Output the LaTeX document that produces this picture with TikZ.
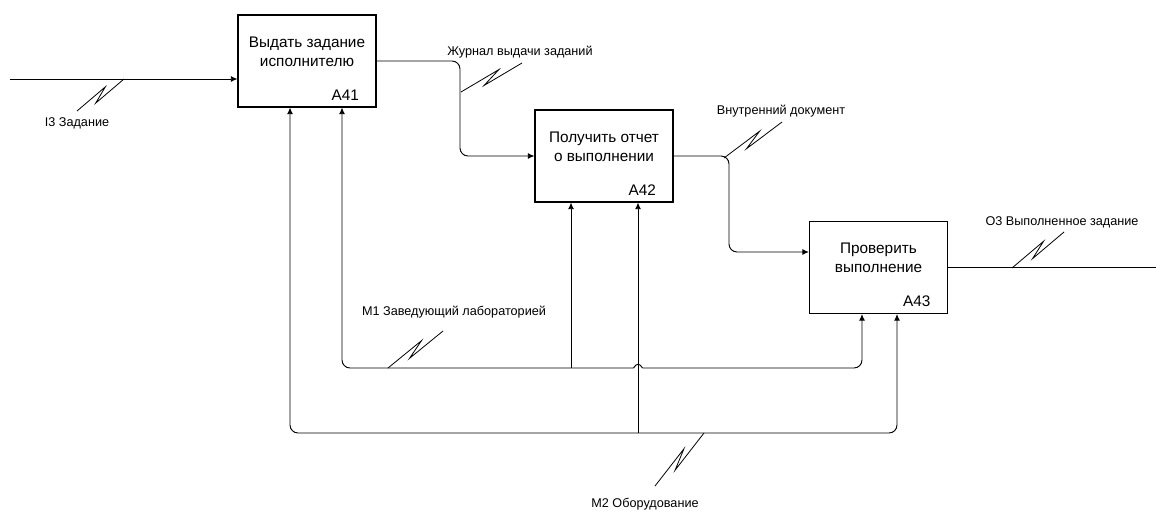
\documentclass[tikz,border=0pt]{standalone}
\usepackage{fontspec}
\setmainfont{Liberation Sans}
\usetikzlibrary{arrows.meta,calc}

\newcommand{\squig}[2]{%
  \draw[squigline] (#1) -- ($(#1)!0.65!(#2)!3pt!90:(#2)$)
    -- ($(#1)!0.35!(#2)!3pt!-90:(#2)$) -- (#2);}

\begin{document}
\begin{tikzpicture}[x=0.75pt, y=-0.75pt,
    actbox/.style={draw, line width=0.8pt, minimum width=103.5pt, minimum height=69pt, inner sep=0pt},
    boxtext/.style={font=\fontsize{11.5}{14.5}\selectfont, align=center},
    boxnum/.style={font=\fontsize{11.5}{13}\selectfont, anchor=south east, inner sep=0pt, xshift=-13pt, yshift=5pt},
    plain/.style={line width=0.7pt},
    flow/.style={plain, -{Latex[length=5pt,width=4.5pt]}},
    twoway/.style={plain, {Latex[length=5pt,width=4.5pt]}-{Latex[length=5pt,width=4.5pt]}},
    squigline/.style={line width=0.6pt},
    arrowlbl/.style={font=\fontsize{9.5}{11}\selectfont}]
    \useasboundingbox (0,0) rectangle (1156,511);

    % Draw Activity Boxes
    \node[actbox, label={[boxtext, yshift=7pt]center:Выдать задание\\исполнителю},
      label={[boxnum]south east:A41}] (a41) at (307,61) {};
    \node[actbox, label={[boxtext, yshift=7pt]center:Получить отчет\\о выполнении},
      label={[boxnum]south east:A42}] (a42) at (604,156) {};
    \node[actbox, label={[boxtext, yshift=7.5pt]center:Проверить\\выполнение},
      label={[boxnum]south east:A43}] (a43) at (878.5,267.5) {};

    % Draw Inputs and Outputs
    \coordinate (i3) at (10,79);
    \draw[flow] (i3) -- (i3 -| a41.west);
    \coordinate (j1) at (460,100);
    \draw[flow, rounded corners=6pt] (a41.east) -| (j1) |- (a42.west);
    \coordinate (j2) at (729,200);
    \draw[flow, rounded corners=6pt] (a42.east) -| (j2) |- ($(a43.west)+(0,-15.5)$);
    \coordinate (o3) at (1156,268);
    \draw[plain] (a43.east) -- (o3 |- a43.east);

    % Draw Mechanisms
    \coordinate (m1) at (571,368);
    \coordinate (m2) at (638,433);
    \coordinate (hopa) at (633.5,368);
    \coordinate (hopb) at (642.5,368);
    \draw[flow, rounded corners=6pt] (hopa) -| ($(a41.south)+(35,0)$);
    \draw[plain] (hopa) .. controls (636.5,363) and (639.5,363) .. (hopb);
    \draw[flow, rounded corners=6pt] (hopb) -| ($(a43.south)+(-16.5,0)$);
    \draw[twoway, rounded corners=6pt]
      ($(a41.south)+(-17,0)$) |- (m2) -| ($(a43.south)+(18.5,0)$);
    \draw[flow] (m1) -- (m1 |- a42.south);
    \draw[flow] (m2) -- (m2 |- a42.south);

    % Draw Squiggles and Labels
    \squig{124,79}{77,111}
    \node[arrowlbl] (l-i3) at (77,123) {I3 Задание};
    \squig{461,92}{522,63}
    \node[arrowlbl] (l-jour) at (520,52) {Журнал выдачи заданий};
    \squig{724,158}{782,122}
    \node[arrowlbl] (l-doc) at (781,111) {Внутренний документ};
    \squig{1012,268}{1064,232}
    \node[arrowlbl] (l-o3) at (1062,222) {О3 Выполненное задание};
    \squig{388,368}{443,331}
    \node[arrowlbl] (l-m1) at (454,312) {М1 Заведующий лабораторией};
    \squig{704,433}{655,486}
    \node[arrowlbl] (l-m2) at (645,504) {М2 Оборудование};

\end{tikzpicture}
\end{document}
